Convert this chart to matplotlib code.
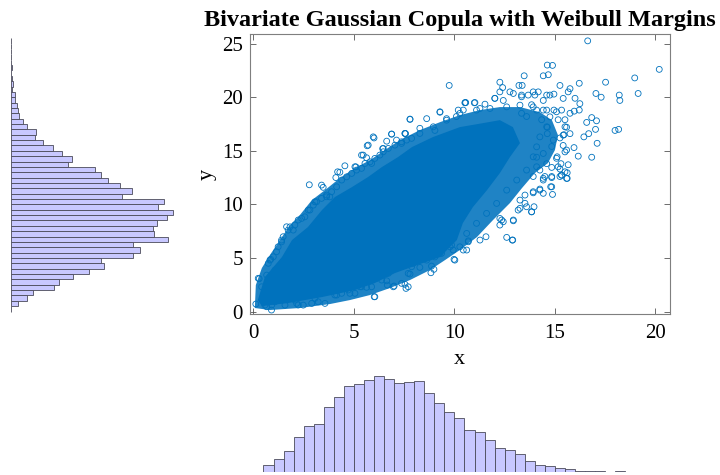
import numpy as np
import matplotlib.pyplot as plt
from matplotlib.patches import Polygon

plt.rcParams['font.family'] = ['Liberation Serif', 'DejaVu Serif']

# histogram bin edges (bin width 0.5)
x_edges = np.arange(0, 20.51, 0.5)
y_edges = np.arange(0, 25.51, 0.5)

# counts per bin
x_counts = [2, 46, 84, 136, 231, 301, 315, 425, 495, 565, 581, 605, 631, 609,
            585, 590, 601, 521, 451, 396, 354, 275, 262, 209, 156, 145, 117,
            73, 46, 40, 26, 20, 7, 9, 7, 2, 4, 2, 2, 1, 1]
y_counts = [1, 24, 52, 74, 143, 160, 204, 259, 308, 298, 402, 426, 402, 517,
            472, 470, 482, 516, 534, 484, 506, 367, 399, 360, 320, 298, 276,
            189, 201, 169, 140, 107, 80, 83, 54, 39, 28, 22, 21, 13, 12, 4, 6,
            3, 1, 2, 0, 0, 0, 0, 1]

# outline of the solid (fully overplotted) core of the cloud
core_x = [0.22, 0.57, 1.42, 1.92, 2.71, 3.41, 4.05, 4.90, 5.70, 6.39, 7.19,
          7.89, 8.93, 10.27, 11.42, 12.26, 12.91, 13.26, 12.76, 12.26, 11.62,
          10.92, 10.42, 10.12, 9.28, 8.28, 7.04, 6.04, 5.05, 3.41, 1.72, 0.42]
core_y = [1.07, 3.22, 5.09, 6.67, 7.88, 9.47, 10.68, 11.61, 12.55, 13.48, 14.41,
          15.35, 16.28, 17.21, 17.58, 17.86, 17.21, 15.72, 14.41, 12.92, 11.33,
          9.75, 8.26, 6.67, 5.08, 4.43, 3.59, 2.66, 2.01, 1.35, 0.79, 0.51]

# outline of the dense but not solid band around it
band_x = [0.07, 0.12, 0.42, 0.82, 1.32, 1.82, 2.31, 2.91, 3.56, 4.30, 5.05,
          5.80, 6.54, 7.29, 8.28, 9.28, 10.27, 11.27, 12.26, 13.26, 14.25,
          14.85, 15.15, 15.00, 14.65, 14.00, 13.36, 12.76, 11.92, 11.12, 10.27,
          9.53, 8.78, 7.79, 6.79, 5.80, 4.80, 3.81, 2.31, 0.82]
band_y = [0.33, 2.47, 4.06, 5.27, 6.67, 8.07, 9.00, 10.40, 11.33, 12.45, 13.39,
          14.13, 15.07, 16.00, 16.93, 17.67, 18.33, 18.80, 19.08, 19.08, 18.61,
          17.86, 16.47, 15.07, 13.85, 12.92, 11.52, 10.12, 8.54, 6.95, 5.74,
          4.80, 3.87, 2.94, 2.19, 1.54, 1.07, 0.70, 0.33, 0.14]

# individual points visible outside the dense area
pts_x = [9.74, 10.54, 10.19, 9.28, 7.79, 8.62, 9.61, 10.10, 8.28, 7.57, 6.87,
         6.00, 6.63, 5.66, 5.46, 5.63, 5.10, 4.55, 4.30, 4.10, 6.43, 7.12, 9.03,
         16.63, 20.19, 18.97, 19.14, 18.20, 18.23, 17.52, 17.04, 17.30, 16.21,
         14.62, 14.88, 14.42, 14.67, 13.47, 12.26, 12.40, 13.21, 13.37, 15.25,
         15.75, 15.66, 17.99, 18.17, 17.10, 16.83, 17.02, 16.58, 16.83, 17.07,
         16.68, 16.44, 16.16, 15.95, 15.75, 16.21, 16.24, 15.96, 16.00, 15.75,
         15.33, 15.50, 15.16, 15.58, 15.45, 15.25, 15.41, 14.84, 15.08, 15.30,
         15.66, 15.25, 14.84, 15.50, 14.42, 14.59, 14.50, 14.25, 13.92, 14.84,
         15.25, 14.09, 14.62, 14.62, 14.34, 14.59, 14.95, 14.42, 14.75, 14.17,
         13.92, 13.67, 13.34, 12.93, 12.76, 12.01, 11.52, 11.02, 10.56, 10.44,
         11.27, 12.43, 13.34, 13.84, 14.09, 13.59,
         2.78, 0.86, 0.29, 0.12, 0.90, 0.66, 1.15, 1.40, 1.82, 3.39, 3.80, 6.01,
         7.00, 6.66, 7.79, 7.54, 7.59, 8.83, 8.98, 8.86, 8.53, 9.03, 9.36, 9.98,
         9.86, 10.69, 10.44, 8.28, 6.63, 6.13, 5.63, 5.30, 4.80, 4.14, 3.56,
         3.22, 2.48, 2.15, 1.57, 0.57,
         15.61, 15.33, 15.61, 14.84, 14.79, 14.88, 14.25, 13.92, 13.96, 13.84,
         13.51, 12.93, 12.60, 12.88, 12.43, 12.26, 11.57, 11.27, 10.61, 13.26,
         13.51, 14.42,
         4.19, 3.47, 3.64, 3.06, 2.81, 2.40, 1.98, 1.48, 0.82, 0.24, 0.66, 5.05,
         5.38, 5.71, 5.96, 6.46, 6.88, 7.54, 7.37, 5.88, 7.70, 7.37, 6.96, 6.38,
         5.88, 6.04, 5.05, 4.39, 2.90, 2.23, 0.91, 7.70, 7.70, 7.87,
         7.79, 7.54, 9.28, 10.52, 10.99, 12.01, 12.26, 13.34, 14.00, 14.59,
         14.95, 15.41, 15.08, 15.50, 15.41, 15.58, 15.50, 15.58, 15.33, 14.84,
         14.42, 14.42, 13.92, 13.59, 13.84, 13.17, 12.93, 12.35, 12.26, 12.90,
         10.69, 10.27, 9.94, 10.02, 8.95, 14.25, 15.11, 14.92, 15.16, 14.09,
         13.26]
pts_y = [21.10, 19.50, 18.80, 18.60, 17.96, 18.00, 18.00, 18.20, 17.10, 16.60,
         16.56, 16.20, 15.90, 15.47, 14.60, 14.35, 13.50, 13.60, 13.00, 12.50,
         15.20, 16.00, 16.90,
         25.26, 22.60, 21.80, 20.35, 20.20, 19.70, 21.40, 20.35, 20.00, 21.30,
         23.00, 22.97, 22.00, 22.10, 22.00, 21.40, 20.90, 21.10, 21.10, 21.10,
         20.80, 20.50, 16.90, 17.00, 15.70, 14.40, 17.00, 17.65, 18.10, 17.80,
         16.60, 16.30, 14.50, 15.30, 16.60, 18.80, 19.40, 18.70, 19.90, 18.50,
         18.80, 17.90, 17.90, 17.20, 16.50, 16.20, 15.50, 15.40, 14.30, 13.80,
         13.70, 13.30, 13.45, 14.90, 14.75, 13.80, 12.60, 13.20, 12.60, 12.60,
         12.60, 14.40, 16.60, 17.20, 17.90, 18.80, 18.80, 19.70, 20.20, 20.50,
         20.50, 20.20, 20.20, 20.35, 20.50, 19.90, 19.35, 19.50, 19.50, 18.80,
         18.95, 19.70, 18.50, 19.30, 18.80, 18.20,
         11.83, 4.87, 3.06, 0.70, 0.14, 0.45, 5.58, 6.50, 7.90, 11.80, 10.70,
         1.38, 2.38, 2.47, 3.50, 2.54, 2.16, 3.62, 3.94, 4.24, 4.96, 5.10, 5.43,
         4.87, 6.20, 6.60, 5.74, 4.12, 2.87, 3.10, 2.26, 2.31, 1.70, 1.54, 0.76,
         0.91, 0.60, 0.76, 0.60, 0.60,
         12.43, 12.73, 12.95, 12.50, 11.64, 10.93, 11.43, 11.08, 9.78, 9.30,
         10.87, 8.47, 6.92, 6.67, 8.38, 8.69, 6.98, 6.67, 5.74, 9.63, 10.10,
         12.43,
         13.04, 11.59, 10.87, 10.24, 9.47, 8.69, 7.60, 6.98, 4.80, 3.10, 3.40,
         13.51, 14.60, 15.53, 16.30, 15.22, 16.56, 16.62, 15.69, 13.82, 3.56,
         2.63, 2.31, 2.94, 2.31, 1.38, 1.70, 1.70, 0.76, 0.61, 0.61, 2.31, 4.65,
         4.18,
         17.93, 16.62, 18.64, 19.48, 19.48, 19.89, 20.50, 20.04, 20.20, 20.20,
         20.29, 19.89, 18.64, 17.24, 16.46, 15.07, 13.04, 12.42, 12.73, 11.64,
         12.27, 11.03, 11.18, 9.78, 9.31, 9.47, 8.54, 8.54, 8.07, 6.67, 6.51,
         6.04, 5.74, 4.80, 5.27, 11.33, 14.44, 16.00, 13.51, 13.51, 10.40]

# points sitting on the edge of the dense band
edge_x = [1.65, 1.73, 2.06, 2.23, 2.56, 2.73, 2.98, 3.14, 3.39, 3.64, 3.89,
          4.14, 4.39, 4.64, 4.89, 5.13, 5.38, 5.55, 5.80, 6.04, 6.29, 6.46,
          6.71, 7.04, 7.37, 7.62, 7.87, 0.74, 0.99, 1.23, 1.07, 0.41, 0.82,
          1.40,
          7.37, 6.71, 5.88, 5.38, 4.72, 4.05, 3.06, 2.06, 1.07,
          10.61, 11.10, 11.60, 12.10, 12.60, 13.10, 13.59, 13.92, 14.09, 14.25,
          14.59, 14.75, 14.42, 13.92, 13.26, 12.60, 11.77, 11.10, 10.27, 9.61,
          8.95, 8.28, 9.78, 9.28, 8.62, 7.95]
edge_y = [7.91, 7.60, 8.07, 8.54, 8.84, 9.47, 9.93, 10.24, 10.56, 10.71, 11.18,
          11.64, 12.27, 12.57, 12.89, 13.20, 13.36, 13.82, 13.97, 14.29, 14.60,
          14.91, 15.22, 15.53, 15.84, 16.00, 16.16, 4.50, 5.11, 6.04, 3.87,
          2.31, 2.78, 6.67,
          4.50, 3.56, 2.94, 2.31, 2.01, 1.54, 1.23, 1.07, 0.91,
          7.29, 8.23, 9.16, 10.09, 11.33, 12.27, 13.20, 14.44, 15.37, 16.30,
          17.24, 18.17, 18.80, 19.10, 19.26, 19.10, 18.95, 18.80, 18.49, 17.86,
          17.24, 16.62, 6.04, 5.43, 4.80, 4.50]

xlim = (-0.17, 20.7)
ylim = (-0.23, 25.9)
blue = '#0072BD'
W, H = 720, 475

fig = plt.figure(figsize=(7.2, 4.75), dpi=100)
ax = fig.add_axes([250 / W, 1 - 314 / H, 419.5 / W, 280 / H])
ax_l = fig.add_axes([11 / W, 1 - 314 / H, 170 / W, 280 / H])
ax_b = fig.add_axes([250 / W, 3 / H, 419.5 / W, 100 / H])

# scatter
ax.add_patch(Polygon(np.column_stack([band_x, band_y]), closed=True,
                     facecolor=blue, edgecolor='none', alpha=0.88))
ax.add_patch(Polygon(np.column_stack([core_x, core_y]), closed=True,
                     facecolor=blue, edgecolor='none'))
ax.scatter(pts_x + edge_x, pts_y + edge_y, s=18, facecolors='none',
           edgecolors=blue, linewidths=0.6)
ax.set_xlim(xlim)
ax.set_ylim(ylim)
ax.set_xticks([0, 5, 10, 15, 20])
ax.set_yticks([0, 5, 10, 15, 20, 25])
ax.tick_params(direction='in', top=True, right=True, length=4, width=0.6,
               color='#555555', labelsize=15)
ax.tick_params(axis='x', pad=7)
ax.tick_params(axis='y', pad=5)
for s in ax.spines.values():
    s.set_color('#7f7f7f')
    s.set_linewidth(0.8)
ax.set_xlabel('x', fontsize=16, labelpad=5)
ax.set_ylabel('y', fontsize=16, labelpad=4)
ax.set_title('Bivariate Gaussian Copula with Weibull Margins',
             fontsize=17.5, fontweight='bold', pad=6)

# marginal histograms
face = '#C8C8FF'
edge = '#4a4a5a'
ax_b.bar(x_edges[:-1], x_counts, width=0.5, align='edge', color=face,
         edgecolor=edge, linewidth=0.6)
ax_b.set_xlim(xlim)
ax_b.set_ylim(0, max(x_counts) * 100 / 96)
ax_b.axis('off')

ax_l.barh(y_edges[:-1], y_counts, height=0.5, align='edge', color=face,
          edgecolor=edge, linewidth=0.6)
ax_l.set_ylim(ylim)
ax_l.set_xlim(0, max(y_counts) * 170 / 161.7)
ax_l.axis('off')

fig.savefig('out.png', dpi=100)
